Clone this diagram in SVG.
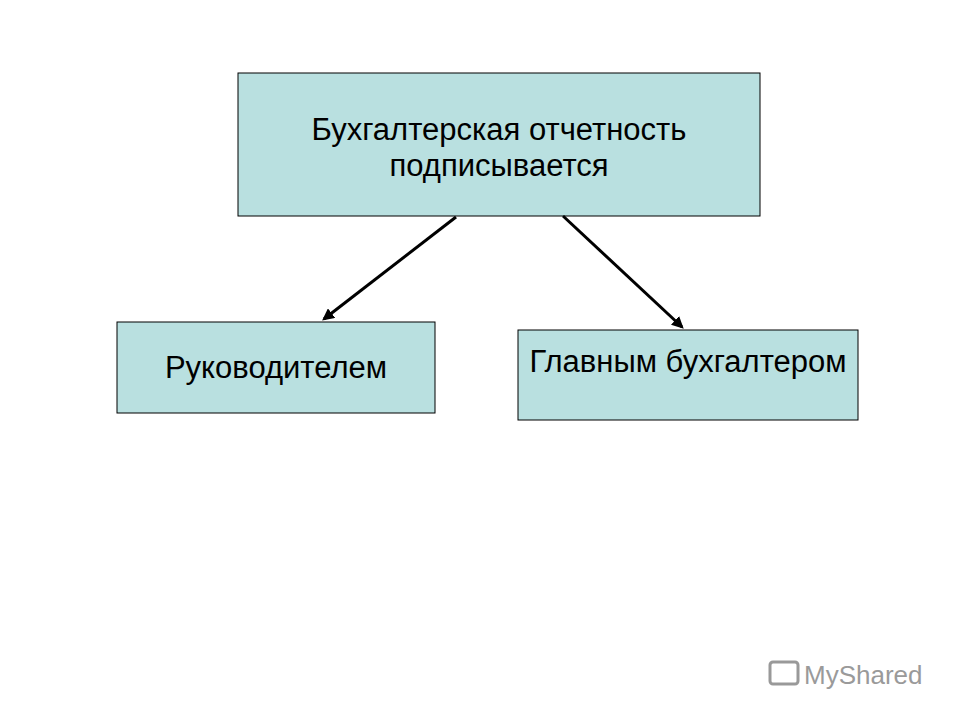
<svg xmlns="http://www.w3.org/2000/svg" width="960" height="720" viewBox="0 0 960 720">
<style>
.box{fill:#b9e0e0;stroke:#000;stroke-width:1}
.t{font-family:"Liberation Sans",Arial,sans-serif;font-size:31px;fill:#000;text-anchor:middle}
.c{stroke:#000;stroke-width:3;fill:none;marker-end:url(#a)}
</style>
<defs><marker id="a" viewBox="0 0 10 10" refX="8" refY="5" markerWidth="4" markerHeight="4" orient="auto"><path d="M0,0L10,5L0,10z" fill="#000"/></marker></defs>
<rect width="960" height="720" fill="#fff"/>
<g id="top"><rect class="box" x="238" y="73" width="522" height="143"/>
<text class="t" x="499" y="140">Бухгалтерская отчетность</text>
<text class="t" x="499" y="176">подписывается</text></g>
<g id="left"><rect class="box" x="117" y="322" width="318" height="91"/>
<text class="t" x="276" y="378">Руководителем</text></g>
<g id="right"><rect class="box" x="518" y="330" width="340" height="90"/>
<text class="t" x="688" y="372">Главным бухгалтером</text></g>
<g id="connectors">
<line class="c" x1="456" y1="217" x2="324" y2="319"/>
<line class="c" x1="563" y1="216" x2="682" y2="327"/>
</g>
<g id="watermark"><rect x="770" y="662" width="28" height="22" rx="3" fill="none" stroke="#999" stroke-width="3"/>
<text x="804" y="684" font-family="Liberation Sans,Arial,sans-serif" font-size="26" fill="#9a9a9a">MyShared</text></g>
</svg>
